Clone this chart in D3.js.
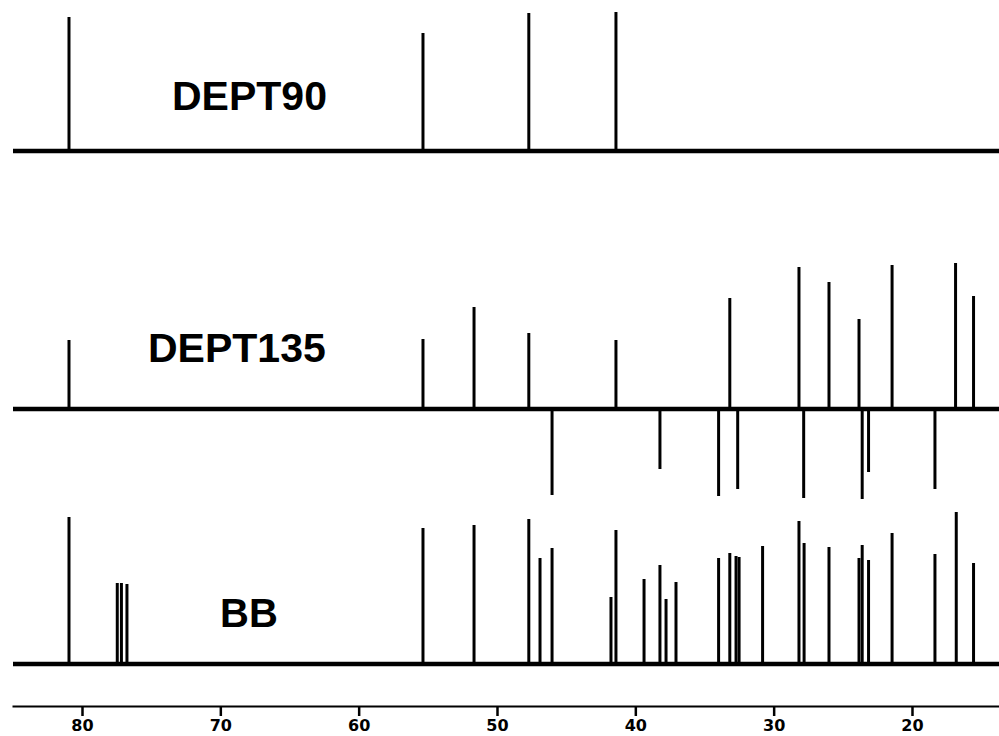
<!DOCTYPE html>
<html>
<head>
<meta charset="utf-8">
<script src="https://cdn.jsdelivr.net/npm/d3@7/dist/d3.min.js"></script>
<style>
  html, body { margin: 0; padding: 0; background: #fff; }
  svg { display: block; }
</style>
</head>
<body>
<svg id="chart" width="999" height="736"></svg>
<script>
// ---- Data (chemical shift in ppm, relative intensity) ----
const axisTicks = [80, 70, 60, 50, 40, 30, 20];
const shiftDomain = [85.06, 13.71];

const dept90Label = "DEPT90";
const dept90Shifts = [80.94, 55.35, 47.70, 41.40];
const dept90Int    = [134, 118, 138, 139];

const dept135Label = "DEPT135";
const dept135Shifts = [80.94, 55.35, 51.66, 47.70, 46.02, 41.40, 38.22, 33.98, 33.17, 32.60, 28.17, 27.83, 26.00, 23.83, 23.60, 23.14, 21.44, 18.34, 16.85, 15.55];
const dept135Int    = [69, 70, 102, 76, -86, 69, -60, -87, 111, -80, 142, -89, 127, 90, -90, -63, 144, -80, 146, 113];

const bbLabel = "BB";
const bbShifts = [80.94, 77.45, 77.15, 76.75, 55.35, 51.66, 47.70, 46.89, 46.02, 41.76, 41.40, 39.37, 38.22, 37.78, 37.06, 33.98, 33.17, 32.72, 32.50, 30.80, 28.17, 27.80, 26.00, 23.83, 23.60, 23.14, 21.44, 18.34, 16.80, 15.55];
const bbInt    = [147, 81, 81, 80, 136, 139, 145, 106, 116, 67, 134, 85, 99, 65, 82, 106, 111, 108, 107, 118, 143, 121, 117, 106, 119, 104, 131, 110, 152, 101];

// ---- Layout ----
const svg = d3.select("#chart");
const x = d3.scaleLinear().domain(shiftDomain).range([12, 999]);

const panels = [
  { label: dept90Label,  shifts: dept90Shifts,  ints: dept90Int,  base: 151, lx: 172, ly: 110, fs: 41 },
  { label: dept135Label, shifts: dept135Shifts, ints: dept135Int, base: 409, lx: 148, ly: 362, fs: 41 },
  { label: bbLabel,      shifts: bbShifts,      ints: bbInt,      base: 664, lx: 220, ly: 627, fs: 40 }
];

panels.forEach(p => {
  const y = d3.scaleLinear().domain([0, 100]).range([p.base, p.base - 100]);
  const g = svg.append("g");
  g.append("line")
    .attr("x1", x(shiftDomain[0]) + 1).attr("x2", x(shiftDomain[1]))
    .attr("y1", y(0)).attr("y2", y(0))
    .attr("stroke", "#000").attr("stroke-width", 4.5);
  const data = p.shifts.map((s, i) => ({ s, v: p.ints[i] }));
  g.selectAll("line.peak").data(data).join("line")
    .attr("class", "peak")
    .attr("x1", d => x(d.s)).attr("x2", d => x(d.s))
    .attr("y1", y(0)).attr("y2", d => y(d.v))
    .attr("stroke", "#000").attr("stroke-width", 3);
  g.append("text")
    .attr("x", p.lx).attr("y", p.ly)
    .attr("font-family", "'Liberation Sans', Arial, sans-serif")
    .attr("font-weight", "bold")
    .attr("font-size", p.fs)
    .attr("fill", "#000")
    .text(p.label);
});

// ---- Axis ----
const axis = d3.axisBottom(x).tickValues(axisTicks).tickSize(10).tickSizeOuter(0).tickFormat(d3.format("d"));
const ag = svg.append("g").attr("transform", "translate(0,706)").call(axis);
ag.select(".domain").attr("stroke", "#000").attr("stroke-width", 2);
ag.selectAll(".tick line").attr("stroke", "#000").attr("stroke-width", 2.5);
ag.selectAll(".tick text")
  .attr("y", 25).attr("dy", 0)
  .attr("fill", "#000")
  .attr("font-family", "'DejaVu Sans', sans-serif")
  .attr("font-weight", "bold")
  .attr("font-size", 16);
</script>
</body>
</html>
